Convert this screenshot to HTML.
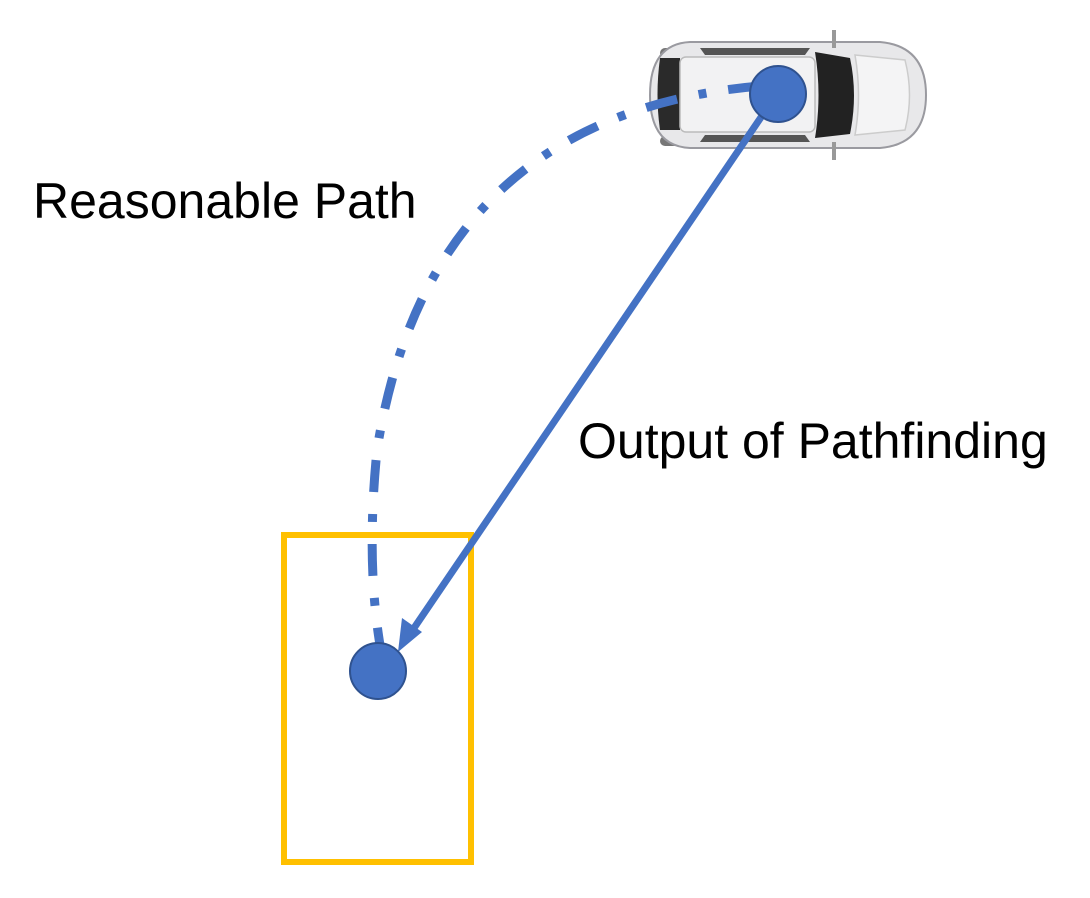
<!DOCTYPE html>
<html><head><style>
html,body{margin:0;padding:0;background:#fff;}
body{width:1090px;height:898px;position:relative;overflow:hidden;font-family:"Liberation Sans",Arial,sans-serif;}
.t{position:absolute;font-size:50px;color:#000;white-space:nowrap;line-height:1;}
</style></head><body>
<svg width="1090" height="898" style="position:absolute;left:0;top:0">
  <g>
    <rect x="660" y="48" width="40" height="10" rx="5" fill="#777"/>
    <rect x="860" y="48" width="40" height="10" rx="5" fill="#777"/>
    <rect x="660" y="136" width="40" height="10" rx="5" fill="#777"/>
    <rect x="860" y="136" width="40" height="10" rx="5" fill="#777"/>
    <path d="M690 42 L880 42 Q926 46 926 95 Q926 144 880 148 L690 148 Q650 146 650 95 Q650 44 690 42 Z" fill="#e8e8ea" stroke="#9a9aa0" stroke-width="2"/>
    <rect x="832" y="30" width="4" height="18" fill="#999"/>
    <rect x="832" y="142" width="4" height="18" fill="#999"/>
    <path d="M660 58 L680 58 L680 130 L660 130 Q655 95 660 58 Z" fill="#2a2a2a"/>
    <rect x="680" y="57" width="135" height="75" rx="6" fill="#f2f2f3" stroke="#bbb" stroke-width="1.5"/>
    <path d="M815 52 L850 58 Q858 95 850 134 L815 138 Q822 95 815 52 Z" fill="#222"/>
    <path d="M855 55 L905 60 Q914 95 905 130 L855 135 Q862 95 855 55 Z" fill="#f4f4f5" stroke="#ccc" stroke-width="1.5"/>
    <path d="M700 48 L810 48 L805 55 L705 55 Z" fill="#555"/>
    <path d="M700 142 L810 142 L805 135 L705 135 Z" fill="#555"/>
  </g>
  <rect x="284" y="535" width="187" height="327" fill="none" stroke="#ffc000" stroke-width="6"/>
  <path d="M760 86 Q430 115 377 450 Q366 560 380 645" fill="none" stroke="#4472c4" stroke-width="9" stroke-dasharray="32 22 8 22"/>
  <line x1="770" y1="104" x2="412" y2="631" stroke="#4472c4" stroke-width="7"/>
  <polygon points="398,652 402,618 422,632" fill="#4472c4"/>
  <circle cx="778" cy="94" r="28" fill="#4472c4" stroke="#2f528f" stroke-width="2"/>
  <circle cx="378" cy="671" r="28" fill="#4472c4" stroke="#2f528f" stroke-width="2"/>
</svg>
<div class="t" style="left:33px;top:176px;">Reasonable Path</div>
<div class="t" style="left:578px;top:416px;">Output of Pathfinding</div>
</body></html>
